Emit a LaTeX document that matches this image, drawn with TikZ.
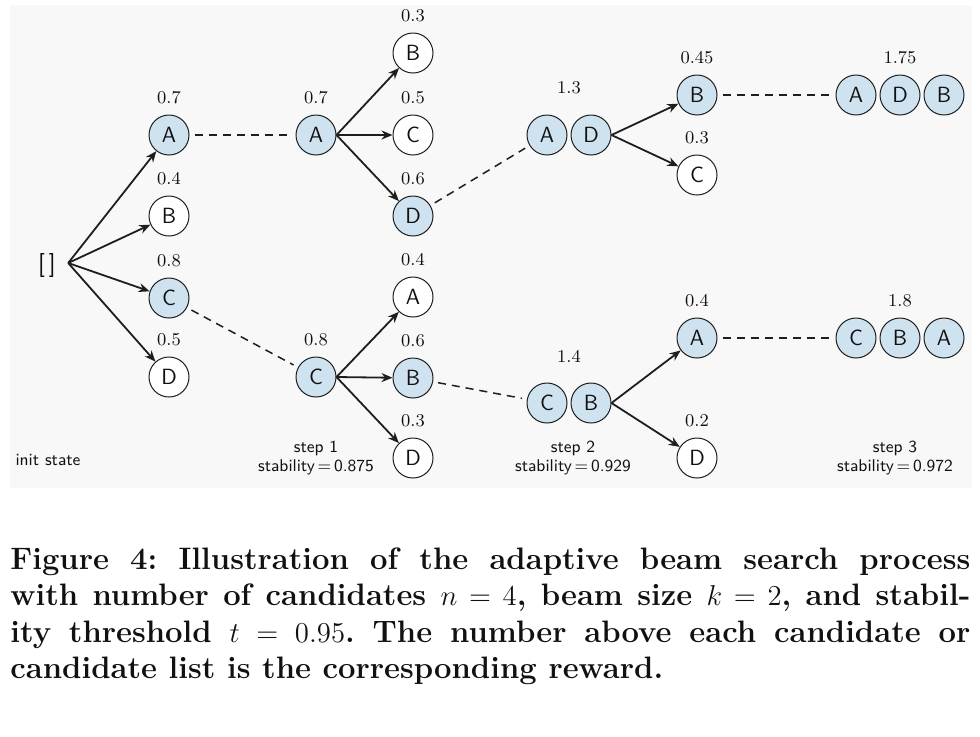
\documentclass[tikz,border=0pt]{standalone}
\usepackage{amsmath}
\usetikzlibrary{arrows.meta,positioning,calc}
\definecolor{bInk}{HTML}{111111}
\definecolor{bLine}{HTML}{1E1E1E}
\definecolor{bKept}{HTML}{CFE2EF}
\definecolor{bPanel}{HTML}{F8F8F8}

\begin{document}
\begin{tikzpicture}[
  x=0.5pt, y=-0.5pt,
  text=bInk,
  node distance=1.5pt,
  >={Stealth[length=5.5pt, width=4.5pt]},
  arr/.style={->, line width=0.9pt, draw=bLine},
  beam/.style={dashed, dash pattern=on 4pt off 3pt, line width=0.75pt, draw=bLine,
               shorten <=2.5pt, shorten >=2.5pt},
  cand/.style={circle, draw=bLine, line width=0.5pt, fill=white, minimum size=20pt,
               inner sep=0pt, font=\sffamily\fontsize{11}{12}\selectfont},
  kept/.style={cand, fill=bKept},
  num/.style={font=\fontsize{9}{10}\selectfont, inner sep=0pt},
  lbl/.style={font=\sffamily\fontsize{8.5}{9.5}\selectfont, align=center, inner sep=0pt},
  figcap/.style={anchor=north west, text width=480pt, align=justify, inner sep=0pt,
                 font=\frenchspacing\bfseries\fontsize{15.5}{18.3}\selectfont},
  every label/.style={num},
  label distance=5pt,
]
\useasboundingbox (0,0) rectangle (980,736);
\fill[white] (0,0) rectangle (980,736);
\fill[bPanel] (10,5) rectangle (972,488);

% init state and the first expansion
\node[font=\sffamily\fontsize{12}{13}\selectfont, inner sep=0pt] (root) at (47,265) {[\,]};
\coordinate (fan) at ($(root.east)+(12,-2)$);
\node[kept, label=above:0.7] (a1) at (169,135) {A};
\node[cand, label=above:0.4] (b1) at (169,216) {B};
\node[kept, label=above:0.8] (c1) at (169,298) {C};
\node[cand, label=above:0.5] (d1) at (169,377) {D};

% step 1
\node[kept, label=above:0.7] (sa) at (316,135) {A};
\node[kept, label=above:0.8] (sc) at (316,377) {C};
\node[cand, label=above:0.3] (sab) at (413,53) {B};
\node[cand, label=above:0.5] (sac) at (413,135) {C};
\node[kept, label=above:0.6] (sad) at (413,216) {D};
\node[cand, label=above:0.4] (sca) at (413,297) {A};
\node[kept, label=above:0.6] (scb) at (413,378) {B};
\node[cand, label=above:0.3] (scd) at (413,458) {D};

% step 2
\node[kept] (ad1) at (547,135) {A};
\node[kept, right=of ad1] (ad2) {D};
\node[kept] (cb1) at (547,403) {C};
\node[kept, right=of cb1] (cb2) {B};
\coordinate (adtop) at ($(ad1.north)!0.5!(ad2.north)$);
\coordinate (cbtop) at ($(cb1.north)!0.5!(cb2.north)$);
\node[num, above=10pt of adtop] (adr) {1.3};
\node[num, above=10pt of cbtop] (cbr) {1.4};
\node[kept, label=above:0.45] (adb) at (697,95) {B};
\node[cand, label=above:0.3] (adc) at (697,175) {C};
\node[kept, label=above:0.4] (cba) at (697,338) {A};
\node[cand, label=above:0.2] (cbd) at (697,458) {D};

% step 3
\node[kept] (t1) at (856,95) {A};
\node[kept, right=of t1, label=above:1.75] (t2) {D};
\node[kept, right=of t2] (t3) {B};
\node[kept] (u1) at (856,338) {C};
\node[kept, right=of u1, label=above:1.8] (u2) {B};
\node[kept, right=of u2] (u3) {A};

% step captions
\node[lbl] (init) at (48,460) {init state};
\node[lbl] (st1) at (316,458) {step 1\\stability\,=\,0.875};
\node[lbl] (st2) at (573,458) {step 2\\stability\,=\,0.929};
\node[lbl] (st3) at (895,458) {step 3\\stability\,=\,0.972};

% expansions
\foreach \n in {a1,b1,c1,d1} \draw[arr] (fan) -- (\n);
\foreach \n in {sab,sac,sad} \draw[arr] (sa.east) -- (\n);
\foreach \n in {sca,scb,scd} \draw[arr] (sc.east) -- (\n);
\foreach \n in {adb,adc} \draw[arr] (ad2.east) -- (\n);
\foreach \n in {cba,cbd} \draw[arr] (cb2.east) -- (\n);

% kept beams
\draw[beam] (a1) -- (sa);
\draw[beam] (c1) -- (sc);
\draw[beam] (sad) -- (ad1);
\draw[beam] (scb) -- (cb1);
\draw[beam] (adb) -- (t1);
\draw[beam] (cba) -- (u1);

% figure caption
\node[figcap] (caption) at (10,547) {Figure 4: Illustration of the adaptive beam search process\linebreak
  with number of candidates $n=4$, beam size $k=2$, and stabil-\linebreak
  ity threshold $t=0.95$. The number above each candidate or\linebreak
  candidate list is the corresponding reward.};

\end{tikzpicture}
\end{document}
